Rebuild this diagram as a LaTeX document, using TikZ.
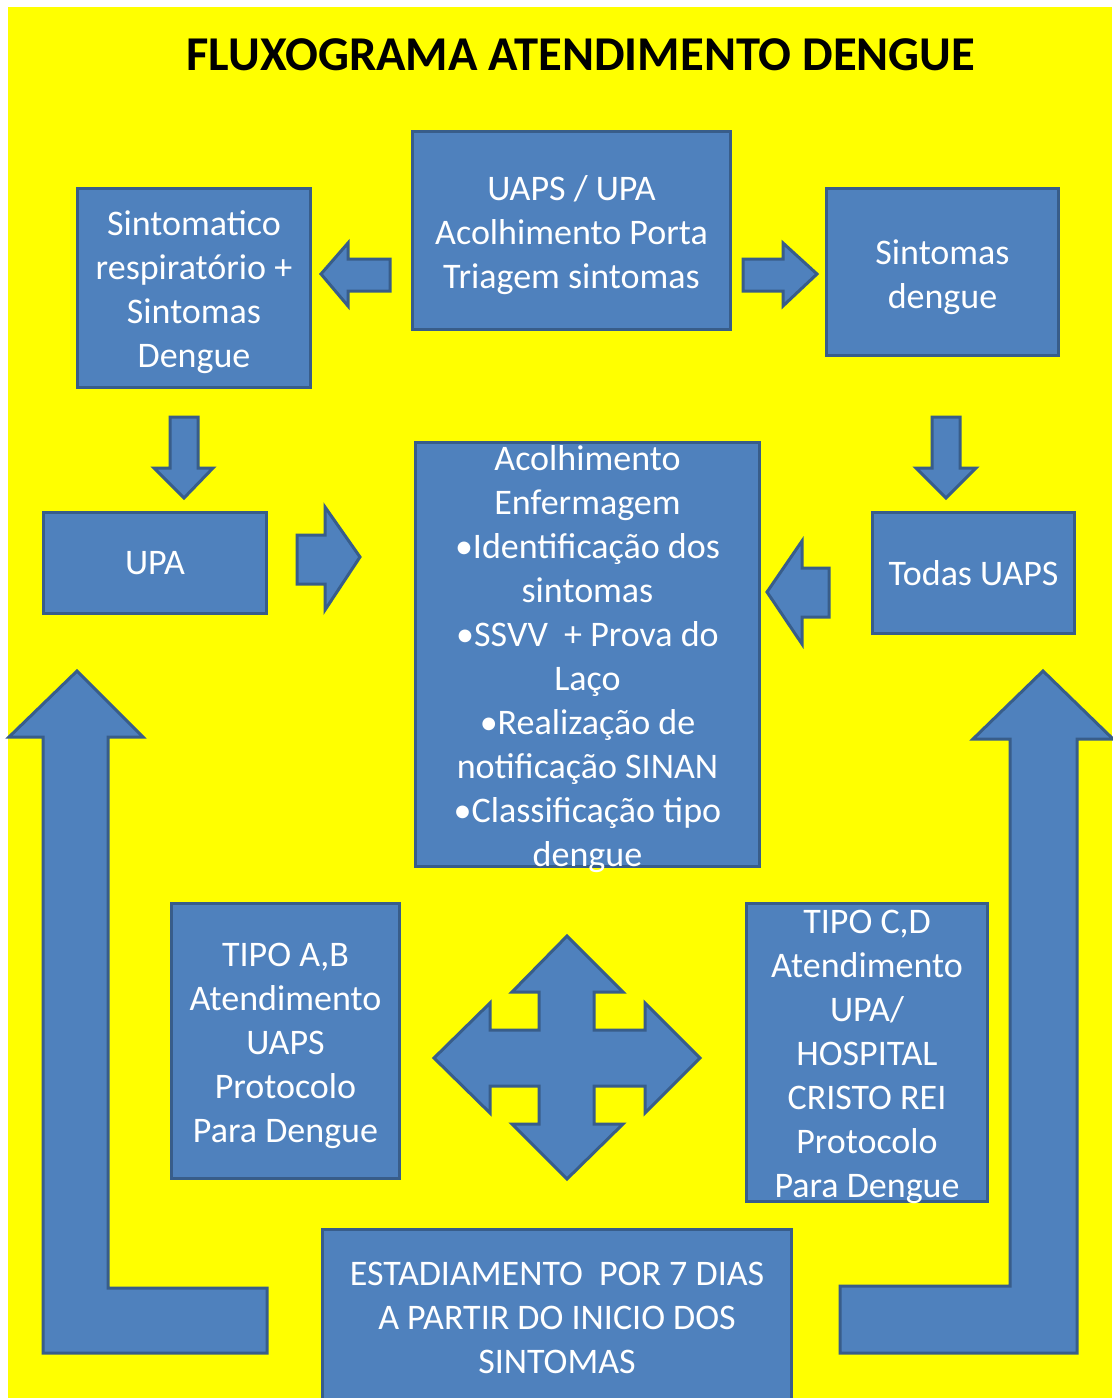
\documentclass[tikz,border=0pt]{standalone}
\usepackage{fontspec}
\setmainfont{Carlito}
\definecolor{boxblue}{HTML}{4F81BD}
\definecolor{boxedge}{HTML}{385D8A}
\definecolor{bgyellow}{HTML}{FFFF00}
\begin{document}
\begin{tikzpicture}[x=1pt,y=-1pt,
  box/.style={draw=boxedge, fill=boxblue, line width=3pt, inner sep=0pt},
  boxtext/.style={text=white, align=center, inner sep=0pt, font=\fontsize{36}{44}\selectfont},
  blockarrow/.style={draw=boxedge, fill=boxblue, line width=3pt, line join=miter}]
\useasboundingbox (0,0) rectangle (1112,1398);
\fill[bgyellow] (8,7) rectangle (1112,1398);

\node[font=\bfseries\fontsize{48.6}{58}\selectfont, anchor=base] (title) at (581,70) {FLUXOGRAMA ATENDIMENTO DENGUE};

% big L-shaped return arrows
\draw[blockarrow] (43,1353) -- (267,1353) -- (267,1288) -- (108,1288) -- (108,737) -- (143,737)
  -- (77,671) -- (9,737) -- (43,737) -- cycle;
\draw[blockarrow] (1077,1353) -- (840,1353) -- (840,1286) -- (1010,1286) -- (1010,739) -- (973,739)
  -- (1043,671) -- (1113,739) -- (1077,739) -- cycle;

% small block arrows
\draw[blockarrow] (321,274) -- (348,243) -- (348,259) -- (390,259) -- (390,291) -- (348,291) -- (348,306) -- cycle;
\draw[blockarrow] (817,274) -- (783,243) -- (783,259) -- (743,259) -- (743,291) -- (783,291) -- (783,306) -- cycle;
\draw[blockarrow] (184,498) -- (154,468) -- (170,468) -- (170,417) -- (198,417) -- (198,468) -- (213,468) -- cycle;
\draw[blockarrow] (946,498) -- (916,468) -- (932,468) -- (932,417) -- (960,417) -- (960,468) -- (976,468) -- cycle;
\draw[blockarrow] (360,557) -- (325,507) -- (325,535) -- (297,535) -- (297,584) -- (325,584) -- (325,610) -- cycle;
\draw[blockarrow] (767,592) -- (802,541) -- (802,568) -- (829,568) -- (829,617) -- (802,617) -- (802,644) -- cycle;

% four-way arrow
\draw[blockarrow] (567,936) -- (623,992) -- (594,992) -- (594,1030) -- (645,1030) -- (645,1003)
  -- (700,1058) -- (645,1113) -- (645,1086) -- (594,1086) -- (594,1124) -- (623,1124)
  -- (567,1179) -- (512,1124) -- (539,1124) -- (539,1086) -- (490,1086) -- (490,1113)
  -- (434,1058) -- (490,1003) -- (490,1030) -- (539,1030) -- (539,992) -- (512,992) -- cycle;

% boxes
\node[box, minimum width=318pt, minimum height=198pt] (triagem) at (571.5,230.5) {};
\node[boxtext, yshift=-5pt] (triagemtext) at (triagem.center)
  {UAPS / UPA\\Acolhimento Porta\\Triagem sintomas};

\node[box, minimum width=233pt, minimum height=199pt] (resp) at (194,288) {};
\node[boxtext, yshift=-4pt] (resptext) at (resp.center)
  {Sintomatico\\respiratório +\\Sintomas\\Dengue};

\node[box, minimum width=232pt, minimum height=167pt] (sintomas) at (942.5,272) {};
\node[boxtext, yshift=-5pt] (sintomastext) at (sintomas.center) {Sintomas\\dengue};

\node[box, minimum width=223pt, minimum height=101pt] (upa) at (155,563) {};
\node[boxtext] (upatext) at (upa.center) {UPA};

\node[box, minimum width=344pt, minimum height=424pt] (enf) at (587.5,654.5) {};
\node[boxtext, yshift=-5pt] (enftext) at (enf.center)
  {Acolhimento\\Enfermagem\\•Identificação dos\\sintomas\\•SSVV\ \ + Prova do\\Laço\\•Realização de\\notificação SINAN\\•Classificação tipo\\dengue};

\node[box, minimum width=202pt, minimum height=121pt] (uaps) at (973.5,573) {};
\node[boxtext] (uapstext) at (uaps.center) {Todas UAPS};

\node[box, minimum width=228pt, minimum height=275pt] (tipoab) at (285.5,1041) {};
\node[boxtext, yshift=-5pt] (tipoabtext) at (tipoab.center)
  {TIPO A,B\\Atendimento\\UAPS\\Protocolo\\Para Dengue};

\node[box, minimum width=241pt, minimum height=298pt] (tipocd) at (867,1052.5) {};
\node[boxtext, yshift=-4pt] (tipocdtext) at (tipocd.center)
  {TIPO C,D\\Atendimento\\UPA/\\HOSPITAL\\CRISTO REI\\Protocolo\\Para Dengue};

\node[box, minimum width=469pt, minimum height=181pt] (estad) at (557,1319.5) {};
\node[boxtext, yshift=2pt] (estadtext) at (estad.center)
  {ESTADIAMENTO\ \ POR 7 DIAS\\A PARTIR DO INICIO DOS\\SINTOMAS};
\end{tikzpicture}
\end{document}
